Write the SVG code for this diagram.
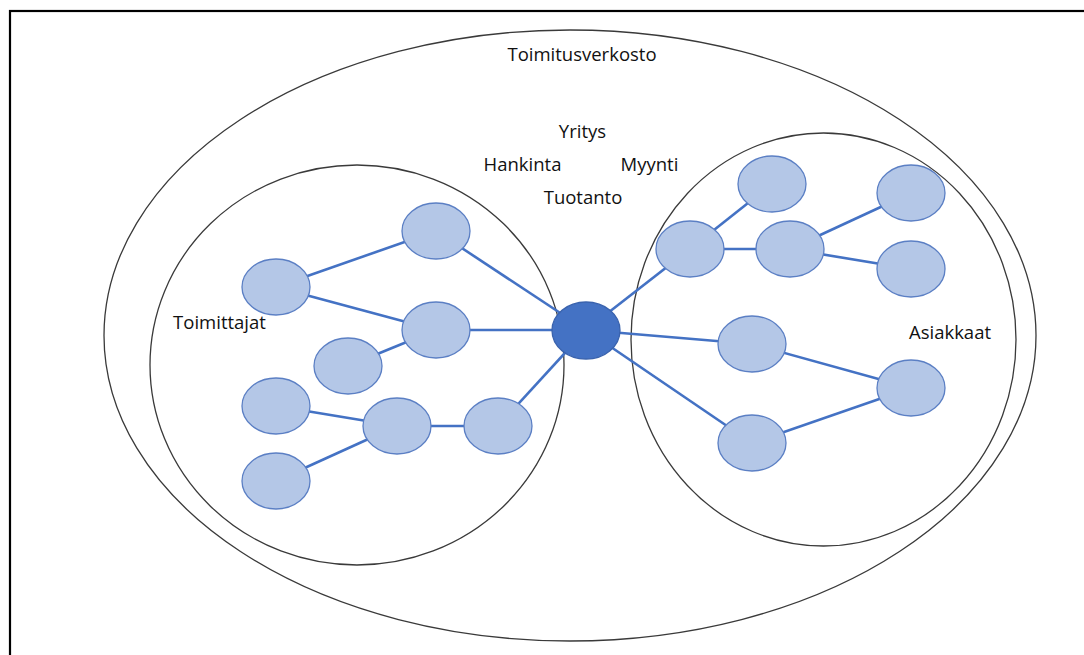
<svg xmlns="http://www.w3.org/2000/svg" width="1084" height="655" viewBox="0 0 1084 655">
<style>
.frame{fill:none;stroke:#000;stroke-width:2.2}
.ring{fill:none;stroke:#3a3a3a;stroke-width:1.3}
.node{fill:#B4C7E7;stroke:#5B7FC4;stroke-width:1.3}
.hub{fill:#4472C4;stroke:#3A63AE;stroke-width:1.3}
.edge{stroke:#4472C4;stroke-width:2.6;fill:none}
.lbl{font-family:"Open Sans","Liberation Sans",sans-serif;font-size:18.5px;fill:#111;text-anchor:middle}
</style>
<rect width="1084" height="655" fill="#fff"/>
<rect class="frame" x="10" y="11" width="1090" height="660"/>
<g id="areas">
<ellipse class="ring" cx="570" cy="335.5" rx="466" ry="305.5"/>
<ellipse class="ring" cx="357" cy="365" rx="207" ry="200"/>
<ellipse class="ring" cx="823.5" cy="339.5" rx="192.5" ry="206.5"/>
</g>
<g id="connectors">
<line class="edge" x1="276" y1="287" x2="436" y2="231"/>
<line class="edge" x1="276" y1="287" x2="436" y2="330"/>
<line class="edge" x1="436" y1="231" x2="586" y2="330"/>
<line class="edge" x1="436" y1="330" x2="586" y2="330"/>
<line class="edge" x1="348" y1="366" x2="436" y2="330"/>
<line class="edge" x1="276" y1="406" x2="397" y2="426"/>
<line class="edge" x1="276" y1="481" x2="397" y2="426"/>
<line class="edge" x1="397" y1="426" x2="498" y2="426"/>
<line class="edge" x1="498" y1="426" x2="586" y2="330"/>
<line class="edge" x1="586" y1="330" x2="690" y2="249"/>
<line class="edge" x1="690" y1="249" x2="772" y2="184"/>
<line class="edge" x1="690" y1="249" x2="790" y2="249"/>
<line class="edge" x1="790" y1="249" x2="911" y2="193"/>
<line class="edge" x1="790" y1="249" x2="911" y2="269"/>
<line class="edge" x1="586" y1="330" x2="752" y2="344"/>
<line class="edge" x1="752" y1="344" x2="911" y2="388"/>
<line class="edge" x1="586" y1="330" x2="752" y2="443"/>
<line class="edge" x1="752" y1="443" x2="911" y2="388"/>
</g>
<g id="hub"><ellipse class="hub" cx="586" cy="330.5" rx="34" ry="28.5"/></g>
<g id="s1"><ellipse class="node" cx="436" cy="231" rx="34" ry="28"/></g>
<g id="s2"><ellipse class="node" cx="276" cy="287" rx="34" ry="28"/></g>
<g id="s3"><ellipse class="node" cx="436" cy="330" rx="34" ry="28"/></g>
<g id="s4"><ellipse class="node" cx="348" cy="366" rx="34" ry="28"/></g>
<g id="s5"><ellipse class="node" cx="276" cy="406" rx="34" ry="28"/></g>
<g id="s6"><ellipse class="node" cx="397" cy="426" rx="34" ry="28"/></g>
<g id="s7"><ellipse class="node" cx="498" cy="426" rx="34" ry="28"/></g>
<g id="s8"><ellipse class="node" cx="276" cy="481" rx="34" ry="28"/></g>
<g id="c1"><ellipse class="node" cx="772" cy="184" rx="34" ry="28"/></g>
<g id="c2"><ellipse class="node" cx="690" cy="249" rx="34" ry="28"/></g>
<g id="c3"><ellipse class="node" cx="790" cy="249" rx="34" ry="28"/></g>
<g id="c4"><ellipse class="node" cx="911" cy="193" rx="34" ry="28"/></g>
<g id="c5"><ellipse class="node" cx="911" cy="269" rx="34" ry="28"/></g>
<g id="c6"><ellipse class="node" cx="752" cy="344" rx="34" ry="28"/></g>
<g id="c7"><ellipse class="node" cx="911" cy="388" rx="34" ry="28"/></g>
<g id="c8"><ellipse class="node" cx="752" cy="443" rx="34" ry="28"/></g>
<g id="labels">
<text class="lbl" x="582" y="61">Toimitusverkosto</text>
<text class="lbl" x="582.5" y="138">Yritys</text>
<text class="lbl" x="522.5" y="171">Hankinta</text>
<text class="lbl" x="649.5" y="171">Myynti</text>
<text class="lbl" x="583" y="204">Tuotanto</text>
<text class="lbl" x="219.5" y="329">Toimittajat</text>
<text class="lbl" x="950" y="339">Asiakkaat</text>
</g>
</svg>
